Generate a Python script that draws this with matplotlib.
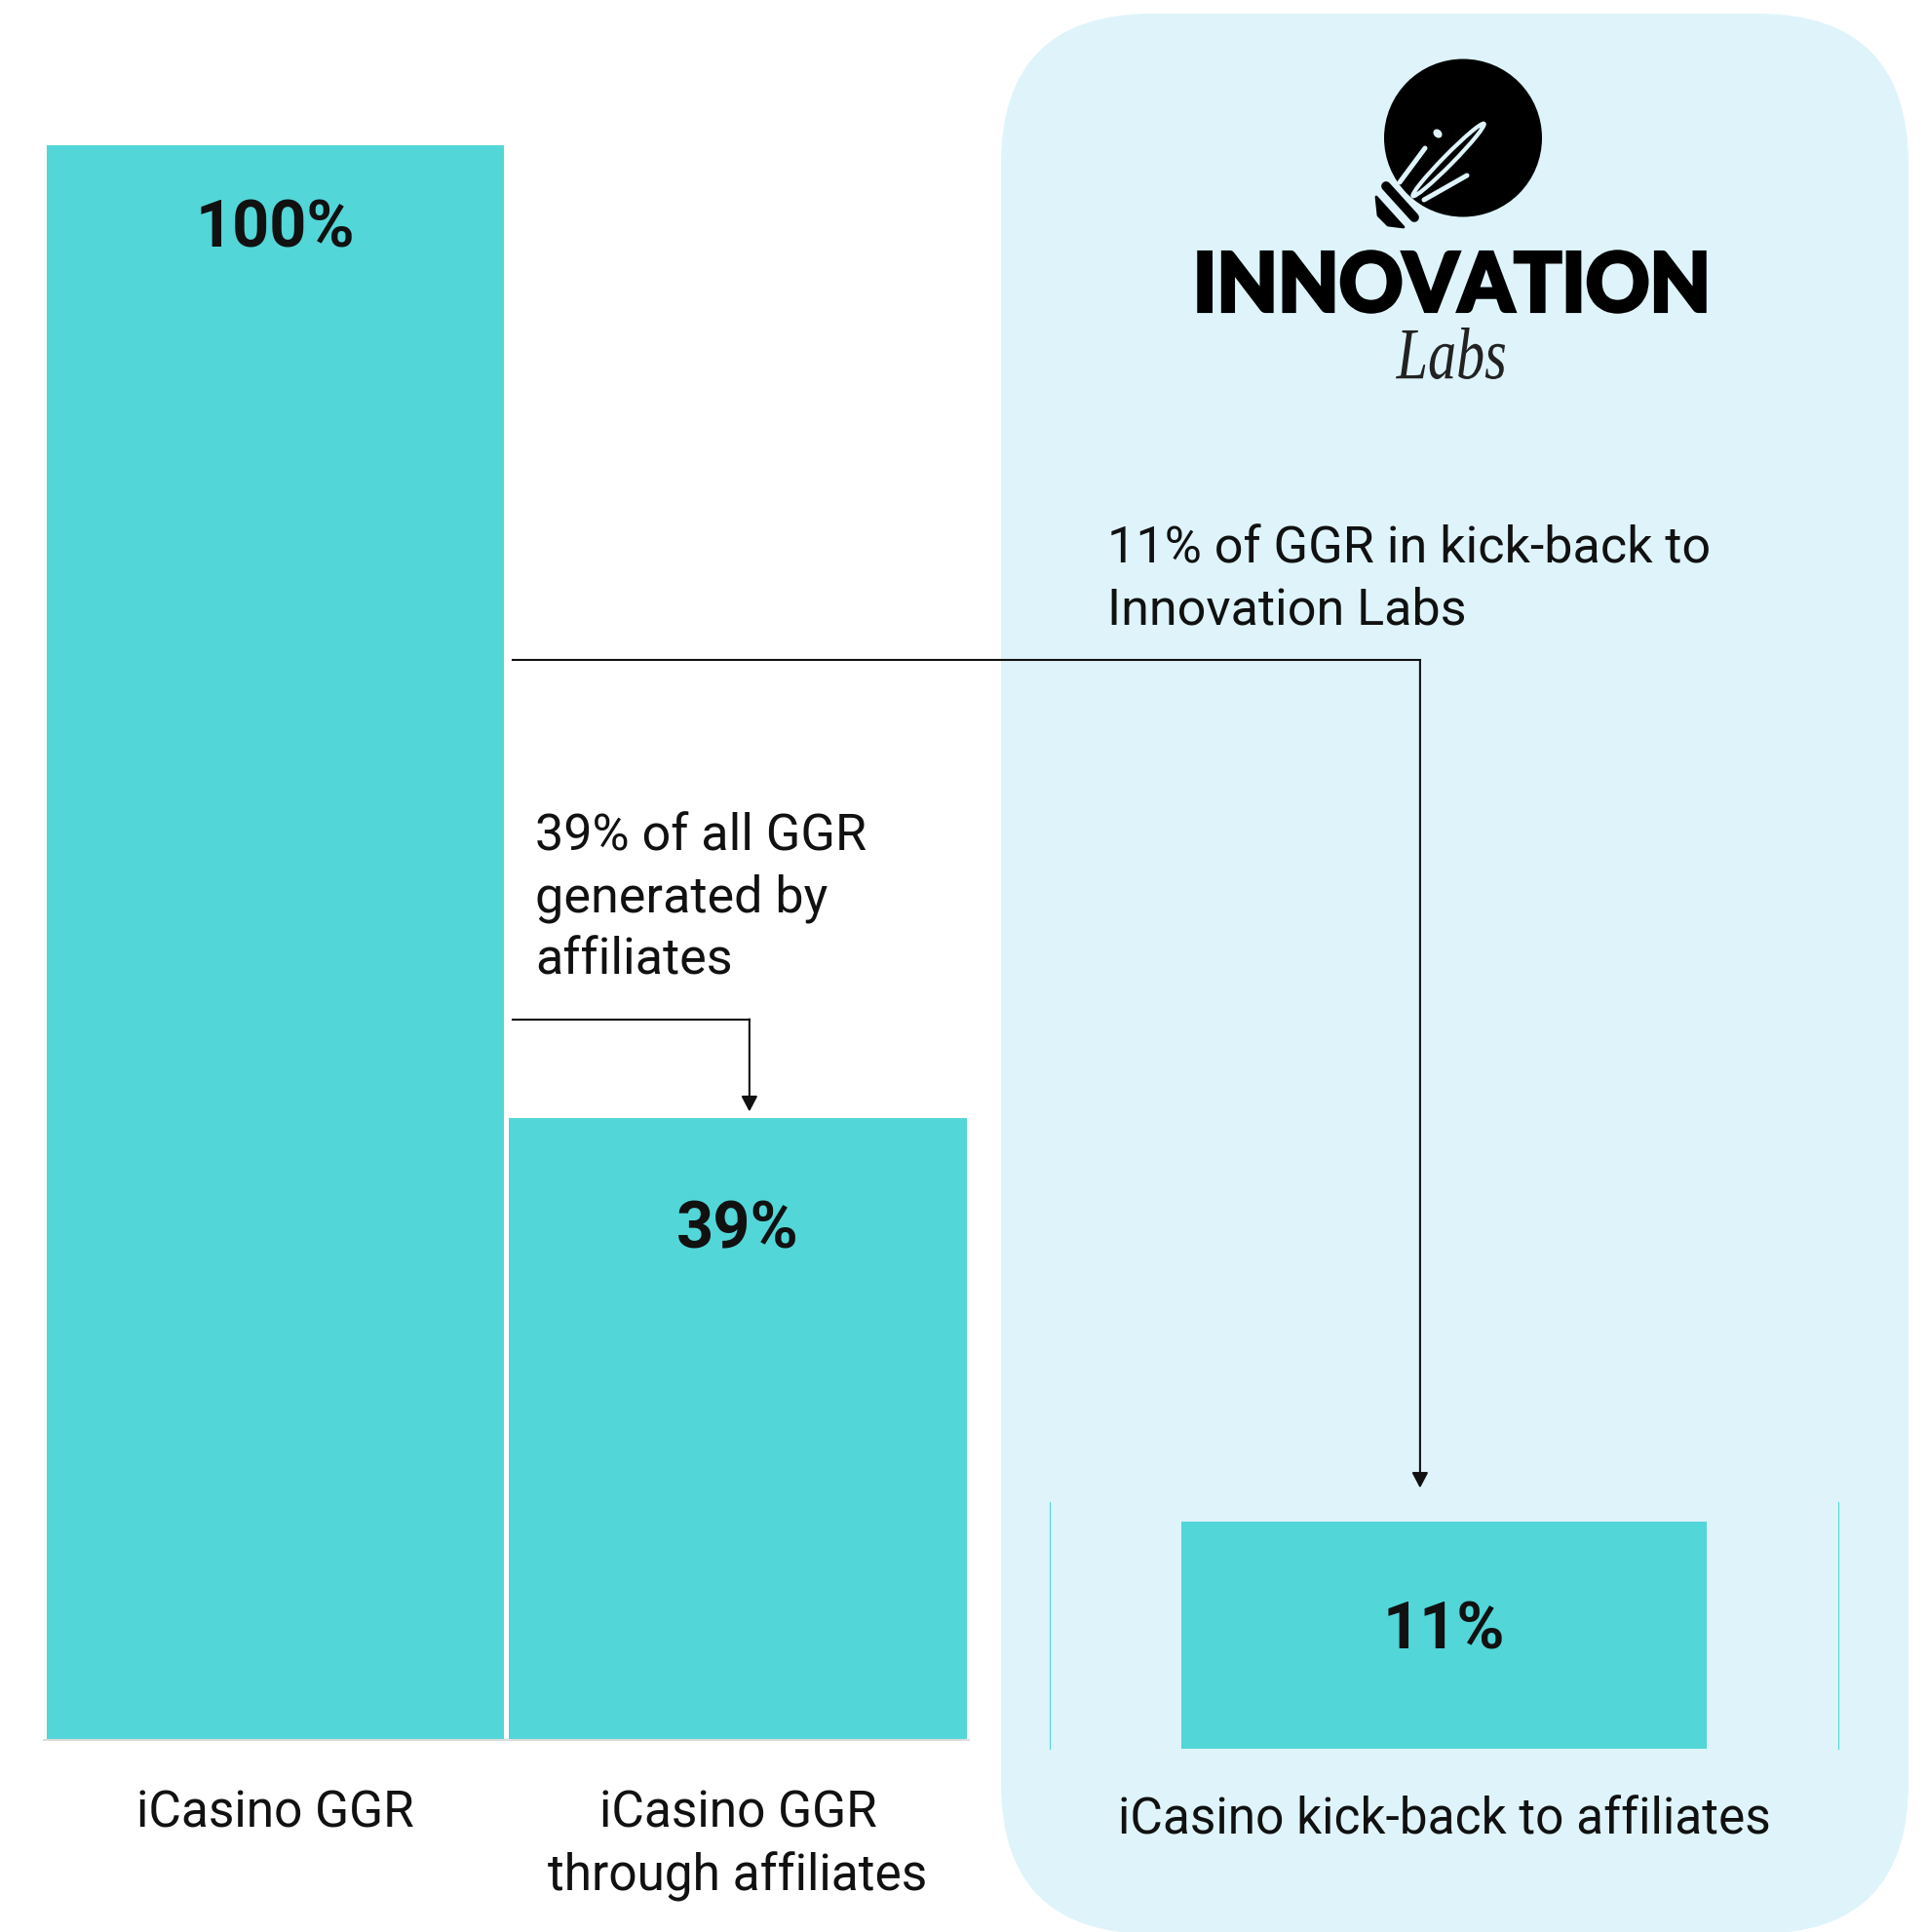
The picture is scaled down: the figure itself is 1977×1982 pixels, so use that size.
import matplotlib
matplotlib.use("Agg")
import matplotlib.pyplot as plt
from matplotlib.patches import FancyBboxPatch, Circle, Ellipse, PathPatch, Polygon
from matplotlib.textpath import TextPath
from matplotlib.font_manager import FontProperties
from matplotlib.transforms import Affine2D

# chart data
main_labels = ["iCasino GGR", "iCasino GGR\nthrough affiliates"]
main_values = [100, 39]
main_texts = ["100%", "39%"]
kick_label = "iCasino kick-back to affiliates"
kick_value = 11
kick_text = "11%"
note_affiliates = "39% of all GGR\ngenerated by\naffiliates"
note_kickback = "11% of GGR in kick-back to\nInnovation Labs"

TEAL = "#52d6d8"
PANEL = "#def4fa"
INK = "#111111"

plt.rcParams['font.family'] = ['Roboto', 'DejaVu Sans']

W, H = 1977, 1983
fig = plt.figure(figsize=(W / 100, H / 100), dpi=100)

# background layer in pixel units (y down): panel + logo + side note
bg = fig.add_axes([0, 0, 1, 1], zorder=0)
bg.set_xlim(0, W)
bg.set_ylim(H, 0)
bg.axis('off')

bg.add_patch(FancyBboxPatch((1027, 15), 931, 1970,
                            boxstyle="round,pad=0,rounding_size=155",
                            fc=PANEL, ec='none'))


def fit_text(ax, s, prop, x0, x1, y0, y1, color, lw=0):
    tp = TextPath((0, 0), s, size=100, prop=prop)
    ext = tp.get_extents()
    sx = (x1 - x0) / ext.width
    sy = (y1 - y0) / ext.height
    tr = Affine2D().translate(-ext.x0, -ext.y0).scale(sx, -sy).translate(x0, y1)
    ax.add_patch(PathPatch(tr.transform_path(tp), fc=color,
                           ec=color if lw else 'none', lw=lw))


# logo: disc with "il" rocket
bg.add_patch(Circle((1501, 142.5), 81, fc='black', ec='none'))
bg.add_patch(Polygon([(1412, 203), (1440, 234), (1424, 232), (1414, 222)],
                     closed=True, fc='black', ec='black', lw=2, joinstyle='round'))
bg.plot([1419, 1453], [189, 226], color=PANEL, lw=13, solid_capstyle='round')
bg.plot([1422, 1451], [192, 224], color='black', lw=7, solid_capstyle='round')
bg.plot([1462, 1436], [153, 188], color=PANEL, lw=3.6, solid_capstyle='round')
bg.add_patch(Ellipse((1475, 138), 8, 10, angle=-45, fc=PANEL, ec='none'))
bg.add_patch(Ellipse((1486, 165), 104, 10, angle=-45.5, fill=False, ec=PANEL, lw=3))
bg.plot([1505, 1461], [181, 206], color=PANEL, lw=3.6, solid_capstyle='round')
fit_text(bg, "INNOVATION", FontProperties(family='Lato', weight='black'),
         1230, 1749, 259, 321, 'black', lw=2.5)
fit_text(bg, "Labs", FontProperties(family='Liberation Serif', style='italic'),
         1432, 1544, 337, 390, '#222222')

bg.text(1136, 538, note_kickback, ha='left', va='top', fontsize=37.5,
        color=INK, linespacing=1.34)

# main bars
ax1 = fig.add_axes([45.25 / W, 1 - 1786 / H, 949 / W, 1636 / H], zorder=2)
ax1.patch.set_alpha(0)
ax1.bar(range(len(main_values)), main_values, width=0.99, color=TEAL)
ax1.set_xlim(-0.5, 1.5)
ax1.set_ylim(0, 100)
for s in ['top', 'left', 'right']:
    ax1.spines[s].set_visible(False)
ax1.spines['bottom'].set_color('#dcdcdc')
ax1.spines['bottom'].set_linewidth(1.5)
ax1.set_yticks([])
ax1.set_xticks(range(len(main_values)), main_labels, fontsize=37, color=INK,
               linespacing=1.37)
ax1.tick_params(axis='x', length=0, pad=35.5)
for i, (v, t, off) in enumerate(zip(main_values, main_texts, [-85, -115])):
    ax1.annotate(t, (i, v), xytext=(0, off), textcoords='offset pixels',
                 ha='center', va='center', fontsize=48, fontweight='bold', color=INK)

ax1.text(0.5616, 58.25, note_affiliates, ha='left', va='top', fontsize=37.5,
         color=INK, linespacing=1.34)

# connector arrows
arrow_kw = dict(arrowstyle='-|>,head_length=0.95,head_width=0.5', color=INK,
                lw=1.5, shrinkA=0, shrinkB=0)
for x0, y, xc, ytip in [(0.513, 67.7, 2.475, 15.8), (0.513, 45.2, 1.025, 39.4)]:
    ax1.plot([x0, xc], [y, y], color=INK, lw=1.5, clip_on=False)
    ax1.annotate('', xy=(xc, ytip), xytext=(xc, y), arrowprops=arrow_kw,
                 annotation_clip=False)

# kick-back bar
ax3 = fig.add_axes([1077 / W, 1 - 1795 / H, 809 / W, 253 / H], zorder=2)
ax3.patch.set_alpha(0)
ax3.bar([0], [kick_value], width=0.667, color=TEAL)
ax3.set_xlim(-0.5, 0.5)
ax3.set_ylim(0, 11.94)
for s in ['top', 'bottom']:
    ax3.spines[s].set_visible(False)
for s in ['left', 'right']:
    ax3.spines[s].set_color(TEAL)
    ax3.spines[s].set_linewidth(0.8)
ax3.set_yticks([])
ax3.set_xticks([0], [kick_label], fontsize=37, color=INK)
ax3.tick_params(axis='x', length=0, pad=34)
ax3.annotate(kick_text, (0, kick_value), xytext=(0, -112), textcoords='offset pixels',
             ha='center', va='center', fontsize=48, fontweight='bold', color=INK)

fig.savefig("out.png", dpi=100)
